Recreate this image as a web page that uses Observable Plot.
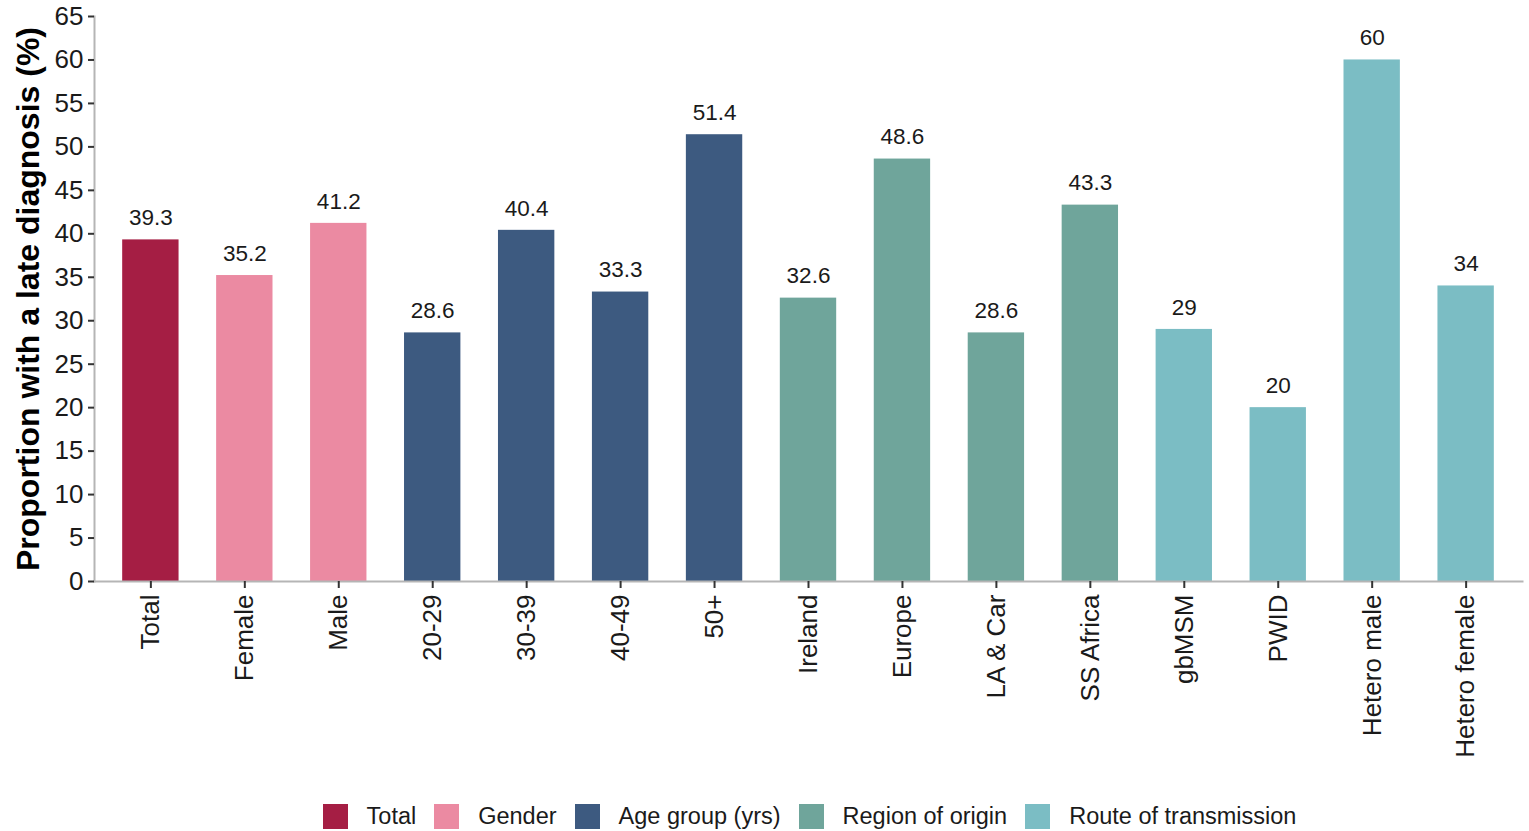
<!DOCTYPE html>
<html>
<head>
<meta charset="utf-8">
<script src="https://cdn.jsdelivr.net/npm/d3@7"></script>
<script src="https://cdn.jsdelivr.net/npm/@observablehq/plot@0.6"></script>
<style>
  body { margin: 0; background: #fff; font-family: "Liberation Sans", Arial, sans-serif; }
  #legend { display: flex; justify-content: center; align-items: center; padding-left: 90px; margin-top: 27px; font-size: 23.5px; color: #1a1a1a; height: 26px; }
  .item { display: flex; align-items: center; margin-right: 18px; }
  .item:last-child { margin-right: 0; }
  .sw { width: 25px; height: 25px; margin-right: 19px; }
</style>
</head>
<body>
<div id="chart"></div>
<div id="legend"></div>
<script>
const categories = ["Total","Female","Male","20-29","30-39","40-49","50+","Ireland","Europe","LA & Car","SS Africa","gbMSM","PWID","Hetero male","Hetero female"];
const values = [39.3, 35.2, 41.2, 28.6, 40.4, 33.3, 51.4, 32.6, 48.6, 28.6, 43.3, 29, 20, 60, 34];
const groups = ["Total","Gender","Gender","Age group (yrs)","Age group (yrs)","Age group (yrs)","Age group (yrs)","Region of origin","Region of origin","Region of origin","Region of origin","Route of transmission","Route of transmission","Route of transmission","Route of transmission"];
const groupNames = ["Total","Gender","Age group (yrs)","Region of origin","Route of transmission"];
const groupColors = ["#A51E44","#EB8AA2","#3D5A80","#6FA59B","#7BBDC4"];
const yTicks = [0,5,10,15,20,25,30,35,40,45,50,55,60,65];

const data = categories.map((c, i) => ({cat: c, value: values[i], group: groups[i]}));

const chart = Plot.plot({
  width: 1529,
  height: 776,
  marginTop: 16,
  marginBottom: 195,
  marginLeft: 94,
  marginRight: 7,
  style: {fontFamily: "Liberation Sans, Arial, sans-serif", fontSize: "26px", color: "#1a1a1a", background: "#fff"},
  x: {domain: categories, paddingInner: 0.4, paddingOuter: 0.3, round: false, label: null},
  y: {domain: [0, 65], label: null},
  color: {domain: groupNames, range: groupColors},
  marks: [
    Plot.barY(data, {x: "cat", y: "value", fill: "group"}),
    Plot.text(data, {x: "cat", y: "value", text: d => String(d.value), dy: -22, fontSize: 22.5, fill: "#1a1a1a"}),
    Plot.frame({anchor: "left", stroke: "#b5b5b5", strokeWidth: 2}),
    Plot.frame({anchor: "bottom", stroke: "#b5b5b5", strokeWidth: 2}),
    Plot.axisY({ticks: yTicks, tickSize: 6, tickPadding: 5, fontSize: 26, label: null, stroke: "#333", strokeWidth: 2, tickFormat: d => String(d)}),
    Plot.axisX({tickSize: 7, tickPadding: 6, tickRotate: -90, fontSize: 26, label: null, stroke: "#333", strokeWidth: 2}),
    Plot.text(["Proportion with a late diagnosis (%)"], {frameAnchor: "left", textAnchor: "middle", rotate: -90, dx: -66, fontSize: 32, fontWeight: "bold", fill: "#000"})
  ]
});
document.getElementById("chart").appendChild(chart);

const legend = document.getElementById("legend");
groupNames.forEach((g, i) => {
  const item = document.createElement("div");
  item.className = "item";
  const sw = document.createElement("div");
  sw.className = "sw";
  sw.style.background = groupColors[i];
  const t = document.createElement("span");
  t.textContent = g;
  item.appendChild(sw);
  item.appendChild(t);
  legend.appendChild(item);
});
</script>
</body>
</html>
